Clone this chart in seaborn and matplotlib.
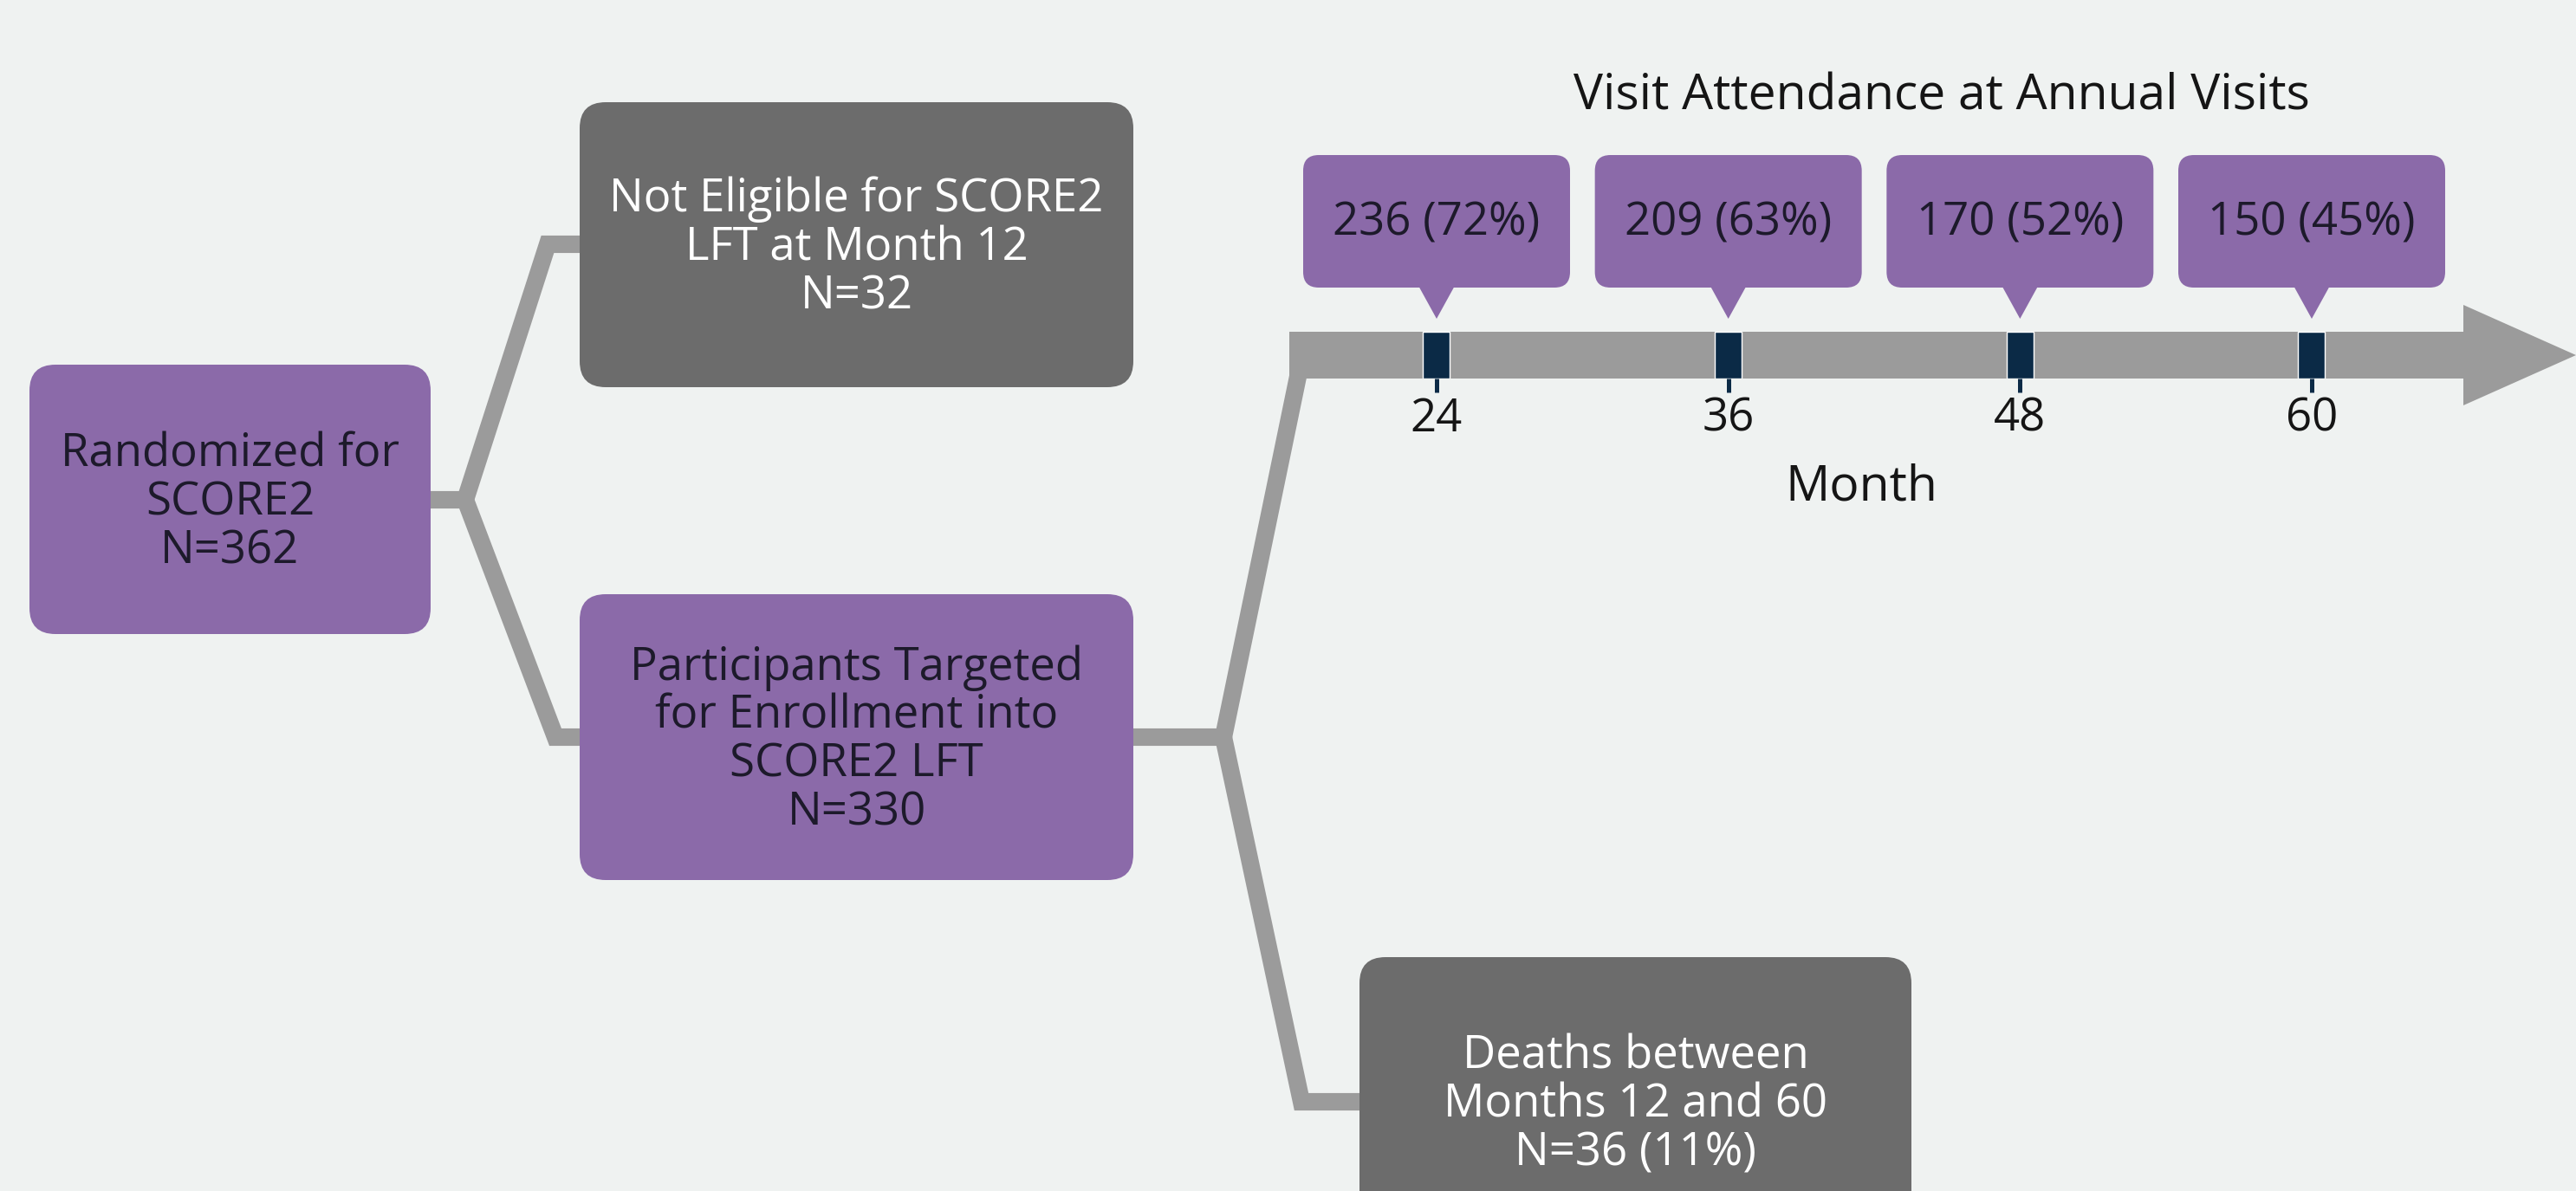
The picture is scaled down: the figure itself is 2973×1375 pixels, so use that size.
import numpy as np
import pandas as pd
import matplotlib
matplotlib.use("Agg")
import matplotlib.pyplot as plt
import matplotlib.font_manager as fm
import matplotlib.transforms as mtransforms
from matplotlib.patches import FancyBboxPatch, Polygon, Rectangle
import seaborn as sns

# ---------------- data ----------------
months = [24, 36, 48, 60]
attended = [236, 209, 170, 150]
attended_pct = [72, 63, 52, 45]
randomized_n = 362
not_eligible_n = 32
targeted_n = 330
deaths_n = 36
deaths_pct = 11
title_text = "Visit Attendance at Annual Visits"
axis_label = "Month"

# ---------------- style ----------------
BG = "#eff2f1"
PURPLE = "#8b6aa9"
DGRAY = "#6c6c6c"
LINE = "#9b9b9b"
NAVY = "#0b2a46"
DARKTXT = "#1d1a2b"

sns.set_theme(style="white")
names = {f.name for f in fm.fontManager.ttflist}
FONT = "DejaVu Sans"
for cand in ["Open Sans", "Noto Sans", "Lato"]:
    if cand in names:
        FONT = cand
        break
plt.rcParams["font.family"] = [FONT, "DejaVu Sans"]

W, H = 2973, 1375
fig = plt.figure(figsize=(W / 100, H / 100), dpi=100)
fig.patch.set_facecolor(BG)
ax = fig.add_axes([0, 0, 1, 1])
ax.set_xlim(0, W)
ax.set_ylim(H, 0)
ax.axis("off")
ax.set_facecolor(BG)

FS_BOX = 38
FS_CALL = 38
FS_TITLE = 41

def box(x0, y0, x1, y1, color, text, tcolor):
    p = FancyBboxPatch((x0, y0), x1 - x0, y1 - y0,
                       boxstyle="round,pad=0,rounding_size=30",
                       fc=color, ec="none", zorder=3)
    ax.add_patch(p)
    ax.text((x0 + x1) / 2, (y0 + y1) / 2 + 4, text, ha="center", va="center",
            fontsize=FS_BOX, color=tcolor, linespacing=1.06, zorder=4)

LW = 14.5
# connectors
ax.plot([497, 537, 632, 672], [577, 577, 282, 282], color=LINE, lw=LW,
        solid_joinstyle="miter", solid_capstyle="butt", zorder=1)
ax.plot([537, 641, 672], [577, 851, 851], color=LINE, lw=LW,
        solid_joinstyle="miter", solid_capstyle="butt", zorder=1)
ax.plot([1306, 1412, 1500], [851, 851, 425], color=LINE, lw=LW,
        solid_joinstyle="miter", solid_capstyle="butt", zorder=1)
ax.plot([1412, 1502, 1572], [851, 1272, 1272], color=LINE, lw=LW,
        solid_joinstyle="miter", solid_capstyle="butt", zorder=1)

# boxes
box(34, 421, 497, 732, PURPLE, f"Randomized for\nSCORE2\nN={randomized_n}", DARKTXT)
box(669, 118, 1308, 447, DGRAY, f"Not Eligible for SCORE2\nLFT at Month 12\nN={not_eligible_n}", "white")
box(669, 686, 1308, 1016, PURPLE,
    f"Participants Targeted\nfor Enrollment into\nSCORE2 LFT\nN={targeted_n}", DARKTXT)
box(1569, 1105, 2206, 1438, DGRAY,
    f"Deaths between\nMonths 12 and 60\nN={deaths_n} ({deaths_pct}%)", "white")

# timeline arrow
SH_TOP, SH_BOT = 383, 437
ax.add_patch(Rectangle((1488, SH_TOP), 2845 - 1488, SH_BOT - SH_TOP, fc=LINE, ec="none", zorder=2))
ax.add_patch(Polygon([[2843, 352], [2973, 410], [2843, 468]], closed=True, fc=LINE, ec="none", zorder=2))

# timeline axes in month units (overlay exactly on shaft)
ax_t = fig.add_axes([0, (H - SH_BOT) / H, 1, (SH_BOT - SH_TOP) / H])
ax_t.patch.set_alpha(0)
px_per_month = (2668 - 1658) / 36.0
m_left = 24 - 1658 / px_per_month
m_right = 24 + (W - 1658) / px_per_month
tick_df = pd.DataFrame({"month": months, "h": [1] * len(months)})
sns.barplot(data=tick_df, x="month", y="h", native_scale=True, width=31 / (12 * px_per_month),
            color=NAVY, saturation=1, errorbar=None, ax=ax_t)
ax_t.set_xlim(m_left, m_right)
ax_t.set_ylim(0, 1)
ax_t.axis("off")

blend = mtransforms.blended_transform_factory(ax_t.transData, ax.transData)

def month_px(m):
    disp = blend.transform((m, 0))
    return ax.transData.inverted().transform(disp)[0]

for m, n, pct in zip(months, attended, attended_pct):
    ax.vlines(m, SH_BOT, 453, colors=NAVY, lw=3.6, transform=blend, zorder=5)
    ax.text(m, 484, f"{m}", transform=blend, ha="center", va="center",
            fontsize=FS_CALL, color="#151515", zorder=5)
    cx = month_px(m)
    ax.add_patch(FancyBboxPatch((cx - 154, 179), 308, 153,
                                boxstyle="round,pad=0,rounding_size=18",
                                fc=PURPLE, ec="none", zorder=3))
    ax.add_patch(Polygon([[cx - 22, 328], [cx + 22, 328], [cx, 368]], closed=True,
                         fc=PURPLE, ec="none", zorder=3))
    ax.text(cx, 258, f"{n} ({pct}%)", ha="center", va="center",
            fontsize=FS_CALL, color=DARKTXT, zorder=4)

ax.text(2241, 112, title_text, ha="center", va="center", fontsize=FS_TITLE, color="#151515")
ax.text(2148, 563, axis_label, ha="center", va="center", fontsize=FS_TITLE, color="#151515")

fig.savefig("out.png", dpi=100, facecolor=BG)
